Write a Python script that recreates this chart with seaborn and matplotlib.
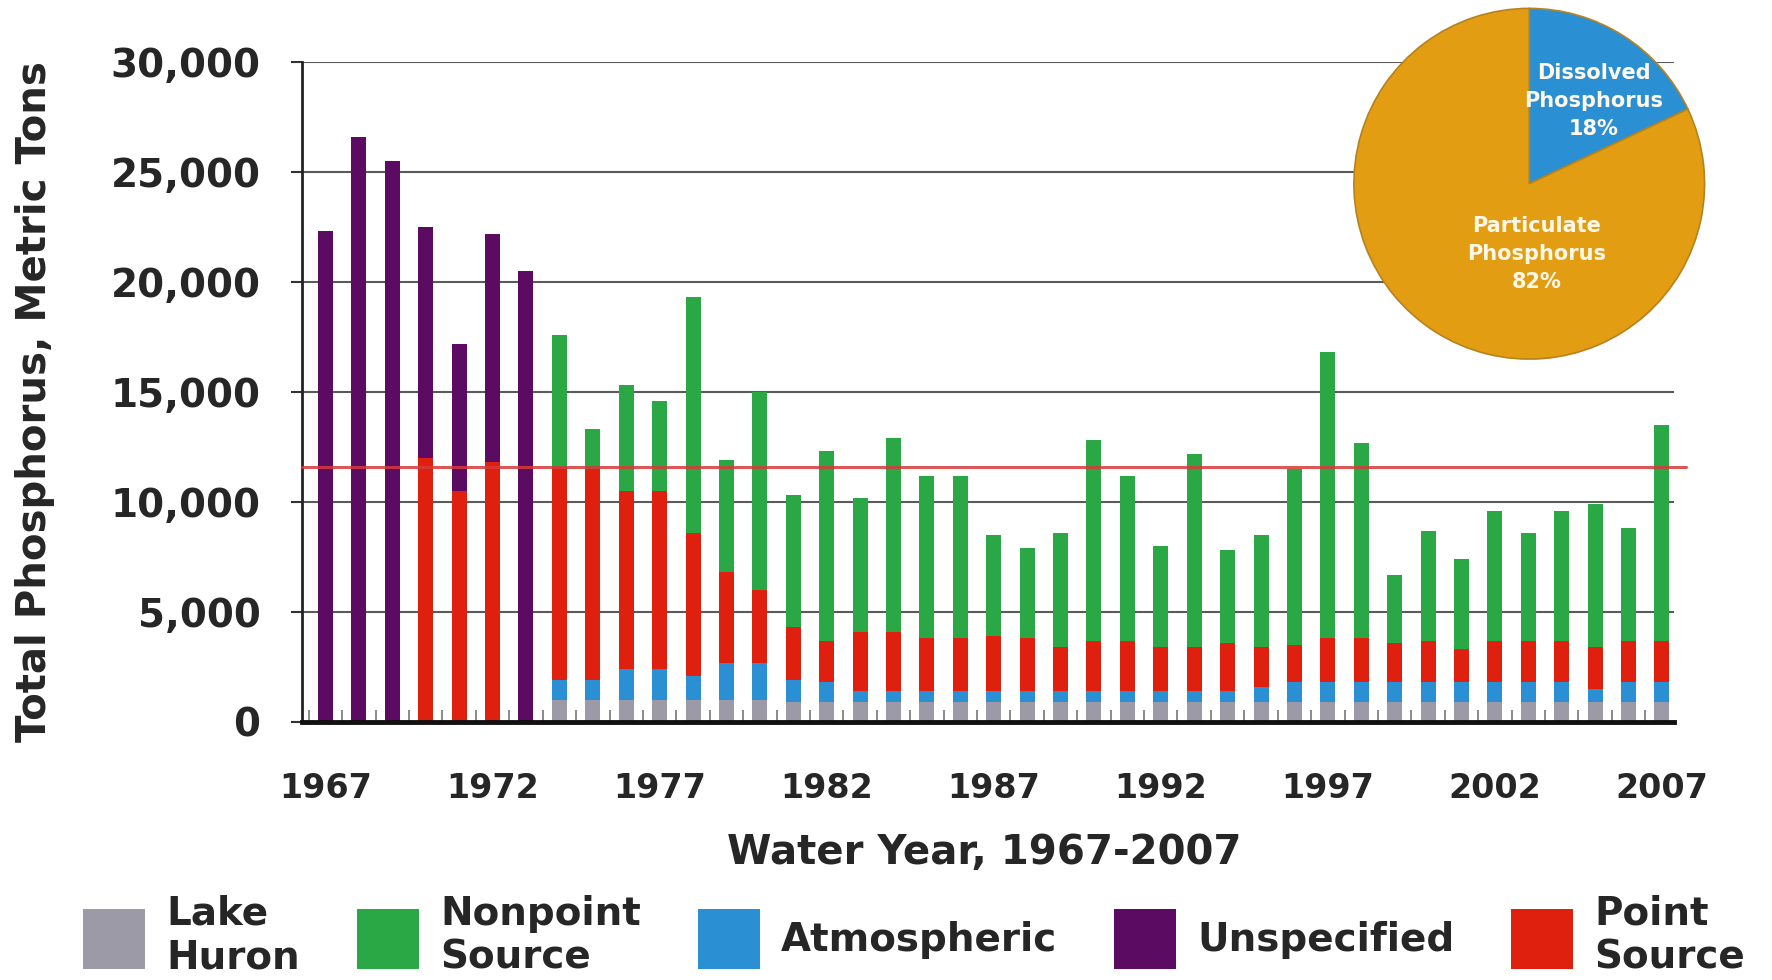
import matplotlib
matplotlib.use("Agg")
import matplotlib.pyplot as plt
from matplotlib.patches import Patch
from matplotlib.ticker import FuncFormatter, FixedLocator
import numpy as np
import seaborn as sns

# water years on the x axis
years = list(range(1967, 2008))

# phosphorus loads by source, metric tons (stacked bottom to top)
lake_huron = [0, 0, 0, 0, 0, 0, 0,
              1000, 1000, 1000, 1000, 1000, 1000, 1000,
              900, 900, 900, 900, 900, 900, 900, 900, 900, 900, 900, 900, 900, 900,
              900, 900, 900, 900, 900, 900, 900, 900, 900, 900, 900, 900, 900]
atmospheric = [0, 0, 0, 0, 0, 0, 0,
               900, 900, 1400, 1400, 1100, 1700, 1700,
               1000, 900, 500, 500, 500, 500, 500, 500, 500, 500, 500, 500, 500, 500,
               700, 900, 900, 900, 900, 900, 900, 900, 900, 900, 600, 900, 900]
point_source = [0, 0, 0, 12000, 10500, 11800, 0,
                9700, 9600, 8100, 8100, 6500, 4100, 3300,
                2400, 1900, 2700, 2700, 2400, 2400, 2500, 2400, 2000, 2300, 2300, 2000, 2000, 2200,
                1800, 1700, 2000, 2000, 1800, 1900, 1500, 1900, 1900, 1900, 1900, 1900, 1900]
nonpoint = [0, 0, 0, 0, 0, 0, 0,
            6000, 1800, 4800, 4100, 10700, 5100, 9000,
            6000, 8600, 6100, 8800, 7400, 7400, 4600, 4100, 5200, 9100, 7500, 4600, 8800, 4200,
            5100, 8000, 13000, 8900, 3100, 5000, 4100, 5900, 4900, 5900, 6500, 5100, 9800]
unspecified = [22300, 26600, 25500, 10500, 6700, 10400, 20500,
               0, 0, 0, 0, 0, 0, 0,
               0, 0, 0, 0, 0, 0, 0, 0, 0, 0, 0, 0, 0, 0,
               0, 0, 0, 0, 0, 0, 0, 0, 0, 0, 0, 0, 0]

target_load = 11600

pie_labels = ["Dissolved\nPhosphorus\n18%", "Particulate\nPhosphorus\n82%"]
pie_shares = [18, 82]

label_years = [1967, 1972, 1977, 1982, 1987, 1992, 1997, 2002, 2007]

colors = {
    "Lake\nHuron": "#9b9aa6",
    "Atmospheric": "#2b8fd3",
    "Point\nSource": "#e0200e",
    "Nonpoint\nSource": "#2aa845",
    "Unspecified": "#5c0b62",
}

sns.set_style("white")
plt.rcParams["font.family"] = ["DejaVu Sans"]
plt.rcParams["font.weight"] = "bold"

fig = plt.figure(figsize=(17.72, 9.8), dpi=100)
ax = fig.add_axes([0.1705, 0.2633, 0.7740, 0.6735])

layers = [lake_huron, atmospheric, point_source, nonpoint, unspecified]
names = ["Lake\nHuron", "Atmospheric", "Point\nSource", "Nonpoint\nSource", "Unspecified"]
tops = np.cumsum(np.array(layers), axis=0)

# draw cumulative heights from the top layer down so each one covers the rest
for name, top in reversed(list(zip(names, tops))):
    sns.barplot(x=years, y=top, color=colors[name], saturation=1, width=0.45,
                native_scale=True, errorbar=None, linewidth=0, ax=ax)

ax.set_xlim(1966.3, 2007.35)
ax.set_ylim(0, 30000)
ax.yaxis.set_major_locator(FixedLocator(range(0, 30001, 5000)))
ax.yaxis.set_major_formatter(FuncFormatter(lambda v, _: f"{int(v):,}"))
ax.set_xticks(label_years)
ax.set_xticklabels([str(y) for y in label_years])
ax.xaxis.set_minor_locator(FixedLocator(np.arange(1966.5, 2008, 1)))

ax.grid(axis="y", color="#5a5a5a", linewidth=1.5)
ax.grid(axis="x", visible=False)
ax.set_axisbelow(True)

ax.axhline(target_load, xmin=0, xmax=1.009, color="#d63a3a", linewidth=2.2,
           alpha=0.85, clip_on=False, zorder=5)

for side in ["top", "right"]:
    ax.spines[side].set_visible(False)
ax.spines["left"].set_color("#222222")
ax.spines["left"].set_linewidth(2)
ax.spines["bottom"].set_color("#111111")
ax.spines["bottom"].set_linewidth(3.5)

ax.tick_params(axis="y", which="major", left=True, length=8, width=1.5,
               color="#333333", pad=22, labelsize=28)
ax.tick_params(axis="x", which="major", bottom=False, length=0, pad=36, labelsize=24)
ax.tick_params(axis="x", which="minor", bottom=True, direction="in", length=9,
               width=1.2, color="#777777")

ax.set_xlabel("Water Year, 1967-2007", fontsize=29, fontweight="bold")
ax.set_ylabel("Total Phosphorus, Metric Tons", fontsize=29, fontweight="bold")
ax.xaxis.set_label_coords(0.497, -0.168)
ax.yaxis.set_label_coords(-0.180, 0.485)

# legend along the bottom
legend_order = ["Lake\nHuron", "Nonpoint\nSource", "Atmospheric", "Unspecified", "Point\nSource"]
handles = [Patch(facecolor=colors[n], edgecolor="none", label=n) for n in legend_order]
fig.legend(handles=handles, loc="center", bbox_to_anchor=(0.516, 0.045), ncol=5,
           frameon=False, fontsize=28, handlelength=1.6, handleheight=2.0,
           handletextpad=0.55, columnspacing=1.45, labelspacing=0.1)

# particulate vs dissolved inset pie
pax = fig.add_axes([0.762, 0.630, 0.202, 0.365])
wedges, _ = pax.pie(pie_shares, colors=["#2b8fd3", "#e39d12"], startangle=90,
                    counterclock=False, radius=1,
                    wedgeprops={"edgecolor": "#b58220", "linewidth": 1.2})
pax.text(0.37, 0.47, pie_labels[0], color="#fff8e8", fontsize=15, fontweight="bold",
         ha="center", va="center", linespacing=1.5)
pax.text(0.04, -0.40, pie_labels[1], color="#fff8e8", fontsize=15, fontweight="bold",
         ha="center", va="center", linespacing=1.5)
pax.set_xlim(-1.02, 1.02)
pax.set_ylim(-1.02, 1.02)
pax.set_aspect("equal")

fig.savefig("out.png", dpi=100, facecolor="white")
